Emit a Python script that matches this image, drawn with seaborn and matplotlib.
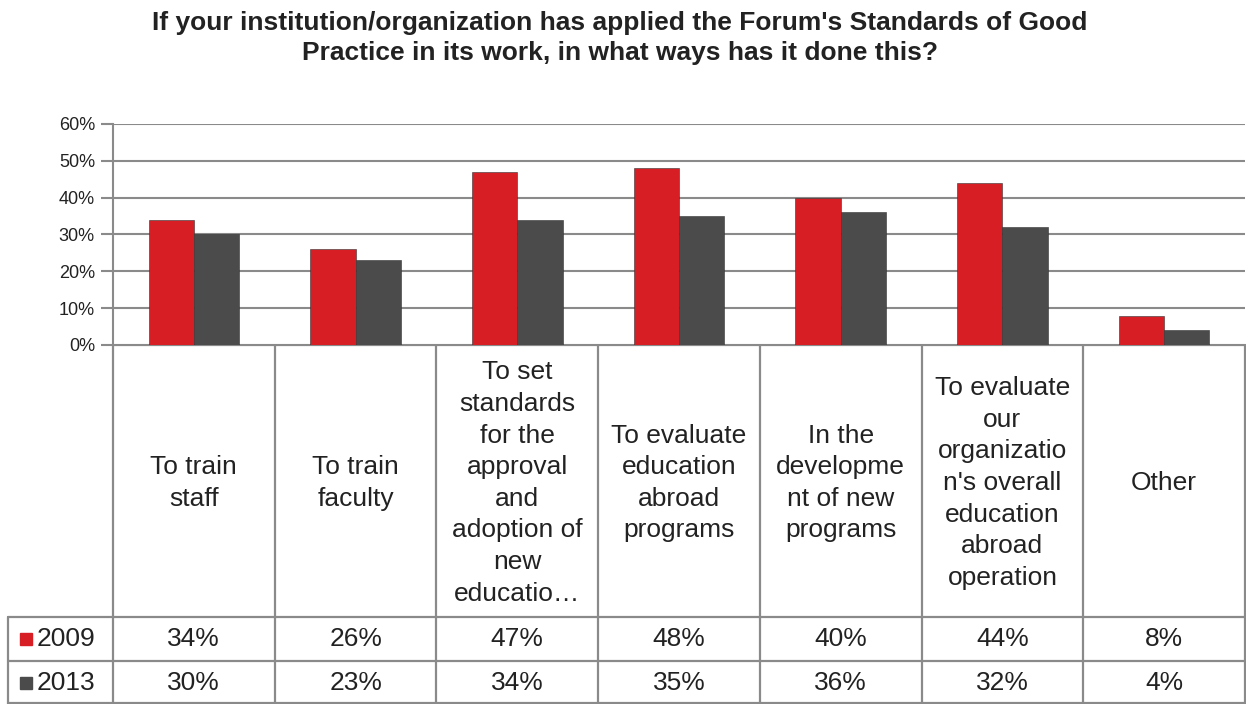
import numpy as np
import pandas as pd
import matplotlib
matplotlib.use("Agg")
import matplotlib.pyplot as plt
import seaborn as sns

# data
categories = ["To train staff", "To train faculty", "To set standards",
              "To evaluate programs", "In the development", "To evaluate operation", "Other"]
wrapped_labels = [
    "To train\nstaff",
    "To train\nfaculty",
    "To set\nstandards\nfor the\napproval\nand\nadoption of\nnew\neducatio\u2026",
    "To evaluate\neducation\nabroad\nprograms",
    "In the\ndevelopme\nnt of new\nprograms",
    "To evaluate\nour\norganizatio\nn's overall\neducation\nabroad\noperation",
    "Other",
]
years = ["2009", "2013"]
vals_2009 = [34, 26, 47, 48, 40, 44, 8]
vals_2013 = [30, 23, 34, 35, 36, 32, 4]
colors = ["#d81e25", "#4b4b4b"]

df = pd.DataFrame({
    "cat": categories * 2,
    "year": [years[0]] * 7 + [years[1]] * 7,
    "value": np.array(vals_2009 + vals_2013) / 100,
})

sns.set_style("white")
plt.rcParams["font.family"] = ["Liberation Sans", "DejaVu Sans"]

W, H = 1246, 704
fig = plt.figure(figsize=(W / 100, H / 100), dpi=100)

# pixel layout
x0, x1 = 113, 1245
y_top, y_zero = 124, 345
ax = fig.add_axes([x0 / W, 1 - y_zero / H, (x1 - x0) / W, (y_zero - y_top) / H])

sns.barplot(data=df, x="cat", y="value", hue="year", palette=colors,
            width=0.56, gap=0, ax=ax, legend=False, saturation=1,
            edgecolor="#333333", linewidth=0.4, zorder=3)
ax.set_xlim(-0.5, 6.5)
ax.set_ylim(0, 0.6)
ax.set_yticks(np.arange(0, 0.61, 0.1))
ax.set_yticklabels([f"{int(round(t * 100))}%" for t in np.arange(0, 0.61, 0.1)],
                   fontsize=13, color="#222222")
ax.set_xticks([])
ax.set_xlabel("")
ax.set_ylabel("")
ax.grid(axis="y", color="#8a8a8a", linewidth=1.5, zorder=0)
ax.tick_params(axis="y", length=9, width=1.5, color="#8a8a8a", pad=4, left=True)
for s in ["top", "right", "bottom"]:
    ax.spines[s].set_visible(False)
ax.spines["left"].set_color("#8a8a8a")
ax.spines["left"].set_linewidth(1.5)

# data table underneath
tax = fig.add_axes([0, 0, 1, 1], zorder=-1)
tax.set_xlim(0, W)
tax.set_ylim(H, 0)
tax.axis("off")

col_w = (x1 - x0) / len(categories)
edges = [x0 + col_w * i for i in range(len(categories) + 1)]
row1, row2, row3 = 617, 661, 704
lc = "#8a8a8a"
lw = 1.6
for e in edges:
    tax.plot([e, e], [y_zero, row3], color=lc, lw=lw)
tax.plot([8, 8], [row1, row3], color=lc, lw=lw)
for yy in [row1, row2, row3 - 1]:
    tax.plot([8, x1], [yy, yy], color=lc, lw=lw)
tax.plot([x0, x1], [y_zero, y_zero], color=lc, lw=lw)

for i, lab in enumerate(wrapped_labels):
    cx = (edges[i] + edges[i + 1]) / 2
    tax.text(cx, (y_zero + row1) / 2 + 2, lab, ha="center", va="center",
             fontsize=19, color="#222222", linespacing=1.4)
    tax.text(cx, (row1 + row2) / 2, f"{vals_2009[i]}%", ha="center", va="center",
             fontsize=19, color="#222222")
    tax.text(cx, (row2 + row3) / 2, f"{vals_2013[i]}%", ha="center", va="center",
             fontsize=19, color="#222222")

for yr, c, yc in [(years[0], colors[0], (row1 + row2) / 2), (years[1], colors[1], (row2 + row3) / 2)]:
    tax.add_patch(plt.Rectangle((20, yc - 6), 12, 12, color=c))
    tax.text(37, yc, yr, ha="left", va="center", fontsize=19, color="#222222")

fig.text(620 / W, 1 - 38 / H,
         "If your institution/organization has applied the Forum's Standards of Good\n"
         "Practice in its work, in what ways has it done this?",
         ha="center", va="center", fontsize=19, fontweight="bold", color="#222222",
         linespacing=1.35)

fig.savefig("out.png", dpi=100)
